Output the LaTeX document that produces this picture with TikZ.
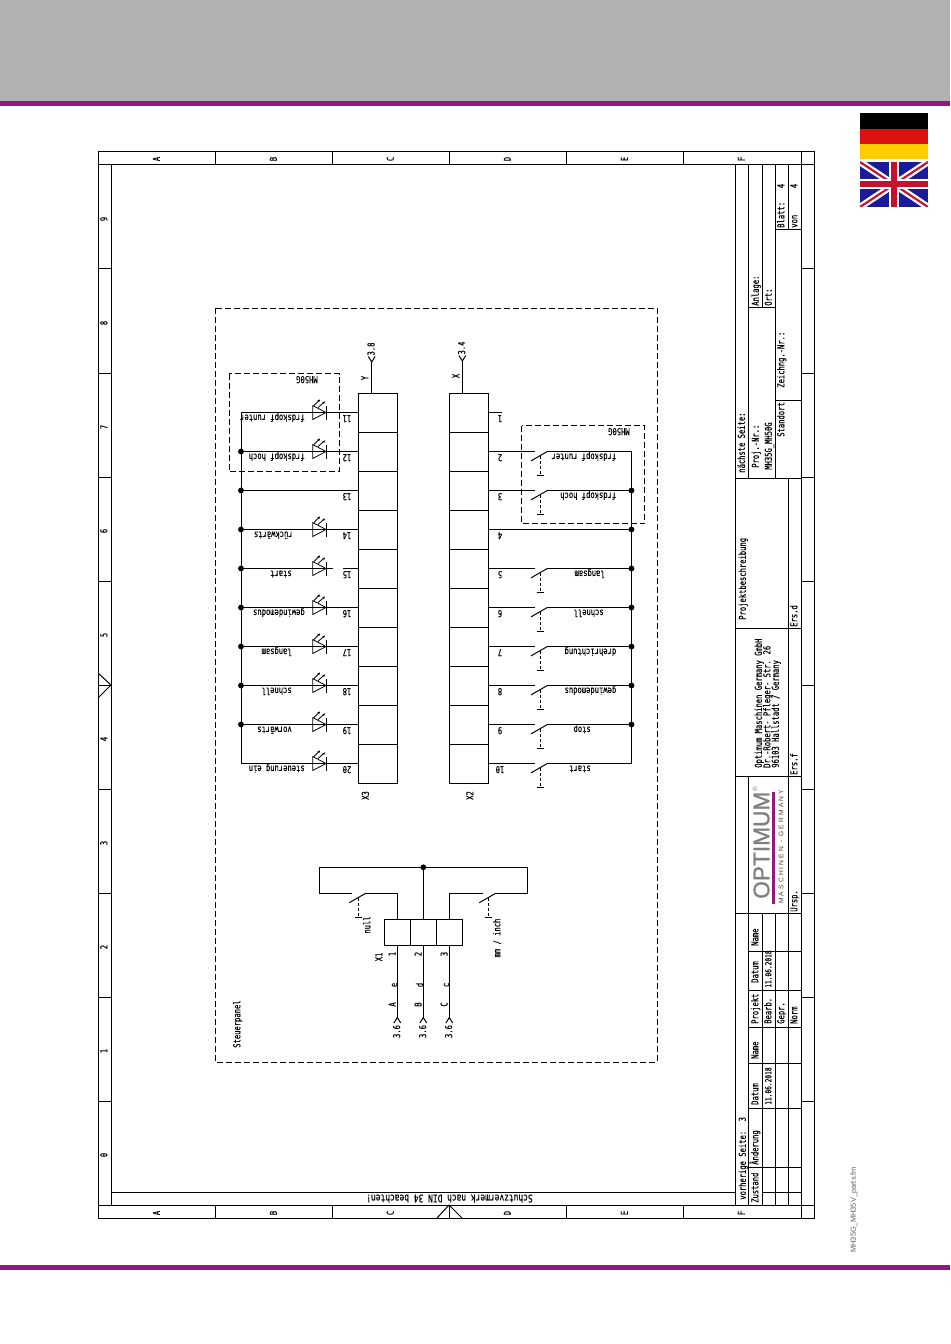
\documentclass[tikz,border=0pt]{standalone}
\usepackage{fontspec}
\setmainfont[FakeStretch=0.75,FakeBold=0.35]{DejaVu Sans Mono}
\newfontfamily\logofont[FakeBold=1.2]{Liberation Sans}
\newfontfamily\logosmall[LetterSpace=32]{Liberation Sans}
\newfontfamily\filefont{Liberation Sans}
\definecolor{banner}{HTML}{B2B2B2}
\definecolor{brandpurple}{HTML}{8E1B7D}
\definecolor{logogray}{HTML}{7F7F7F}
\definecolor{flagred}{HTML}{DD1111}
\definecolor{flaggold}{HTML}{FFCC00}
\definecolor{ukblue}{HTML}{1A1A9A}
\definecolor{ukred}{HTML}{C8102E}
\tikzset{
  wire/.style={line width=0.75pt,line cap=butt},
  frameline/.style={line width=0.75pt},
  dashbox/.style={line width=0.7pt,dash pattern=on 4.5pt off 2.25pt},
  cell/.style={draw,line width=0.75pt,minimum width=29.25pt,minimum height=29.25pt,outer sep=0pt,inner sep=0pt},
  xcell/.style={draw,line width=0.75pt,minimum width=19.5pt,minimum height=19.5pt,outer sep=0pt,inner sep=0pt},
  junction/.style={circle,fill=black,inner sep=0pt,minimum size=4.4pt,outer sep=0pt},
  txt/.style={inner sep=0pt,font=\fontsize{7.15}{8}\selectfont,text height=5.2pt,text depth=1pt},
  upside/.style={txt,rotate=180,anchor=west},
  upsidec/.style={txt,rotate=180},
  side/.style={txt,rotate=90,anchor=west},
  sidec/.style={txt,rotate=90},
  datetxt/.style={side,font=\fontsize{6.2}{7}\selectfont},
  ledsym/.pic={
    \draw[line width=0.6pt] (-13.3,-7) -- (0,0) -- (-13.3,7) -- cycle;
    \draw[line width=0.75pt] (0,-7) -- (0,7);
    \draw[line width=0.6pt,-{Stealth[length=2pt,width=2pt]}] (-12,-7) -- (-6,-13);
    \draw[line width=0.6pt,-{Stealth[length=2pt,width=2pt]}] (-8,-5) -- (-1,-11);
  },
  swsym/.pic={
    \draw[wire] (0,9.4) -- (16.3,0);
    \draw[wire,dash pattern=on 2.2pt off 1.6pt] (9,4.7) -- (9,24.4);
    \draw[wire] (5.5,24.4) -- (12.5,24.4);
  },
  chevup/.pic={\draw[wire] (-3.4,5.5) -- (0,0) -- (3.4,5.5);},
  chevdown/.pic={\draw[wire] (-3.4,-5.5) -- (0,0) -- (3.4,-5.5);}
}
\usetikzlibrary{arrows.meta}
\begin{document}
\begin{tikzpicture}[x=0.75pt,y=-0.75pt]
\useasboundingbox (0,0) rectangle (950,1344);
\fill[white] (0,0) rectangle (950,1344);
% banner
\fill[banner] (0,0) rectangle (950,102);
\fill[brandpurple] (0,101) rectangle (950,106);
\fill[brandpurple] (0,1265) rectangle (950,1270);
% flags
\fill[black] (860,113) rectangle (928,129);
\fill[flagred] (860,129) rectangle (928,144);
\fill[flaggold] (860,144) rectangle (928,159);
\begin{scope}
\clip (860,162) rectangle (928,207);
\fill[ukblue] (860,162) rectangle (928,207);
\draw[white,line width=5pt] (860,162) -- (928,207) (860,207) -- (928,162);
\draw[ukred,line width=1.6pt] (860,162) -- (928,207) (860,207) -- (928,162);
\draw[white,line width=7.5pt] (894,162) -- (894,207) (860,184.5) -- (928,184.5);
\draw[ukred,line width=4.5pt] (894,162) -- (894,207) (860,184.5) -- (928,184.5);
\end{scope}
\node[rotate=90,anchor=west,inner sep=0pt,text=black!62,font=\filefont\fontsize{5.6}{6}\selectfont] (fname) at (854,1253) {MH35G\_MH35V\_parts.fm};
% drawing frame
\draw[frameline] (98,152) rectangle (814,1218);
\draw[frameline] (111,165) -- (111,1205);
\draw[frameline] (98,165) -- (814,165);
\draw[frameline] (98,1205) -- (814,1205);
\draw[frameline] (801,152) -- (801,1218);
\foreach \x in {215,332,449,566,683} {
  \draw[frameline] (\x,152) -- (\x,165);
  \draw[frameline] (\x,1205) -- (\x,1218);
}
\foreach \y in {269,373,477,581,685,789,893,997,1101} {
  \draw[frameline] (98,\y) -- (111,\y);
  \draw[frameline] (801,\y) -- (814,\y);
}
\draw[frameline] (98,673) -- (111,685) -- (98,698);
\draw[frameline] (437,1218) -- (449,1205) -- (462,1218);
\foreach \x/\l in {157/A,274/B,391/C,508/D,625/E,742/F} {
  \node[sidec] (top\l) at (\x,159) {\l};
  \node[sidec] (bot\l) at (\x,1213) {\l};
}
\foreach \y/\l in {219/9,323/8,427/7,531/6,635/5,739/4,843/3,947/2,1051/1,1155/0} {
  \node[sidec] (num\l) at (104.5,\y) {\l};
}
% Schutzvermerk
\draw[frameline] (111,1192) -- (735,1192);
\node[upside,font=\fontsize{7.9}{9}\selectfont] (schutz) at (533,1197.5) {Schutzvermerk nach DIN 34 beachten!};
% title block
\draw[frameline] (735,165) -- (735,1205);
\draw[frameline] (748,165) -- (748,478);
\draw[frameline] (748,776) -- (748,1205);
\draw[frameline] (762,165) -- (762,308);
\draw[frameline] (762,913) -- (762,1205);
\draw[frameline] (775,165) -- (775,478);
\draw[frameline] (775,913) -- (775,1205);
\draw[frameline] (788,165) -- (788,230);
\draw[frameline] (788,478) -- (788,1205);
\draw[frameline] (775,230) -- (801,230);
\draw[frameline] (748,308) -- (775,308);
\draw[frameline] (775,400) -- (801,400);
\draw[frameline] (735,478) -- (801,478);
\draw[frameline] (735,628) -- (801,628);
\draw[frameline] (735,776) -- (801,776);
\draw[frameline] (735,913) -- (801,913);
\foreach \y in {951,990,1027,1063,1108,1167} {
  \draw[frameline] (748,\y) -- (801,\y);
}
\draw[frameline] (762,1192) -- (801,1192);
\node[side] (t1) at (742,473) {nächste Seite:};
\node[side] (t2) at (756,468) {Proj.-Nr.:};
\node[side] (t3) at (769,470) {MH35G\_MH50G};
\node[side] (t4) at (781.5,437) {Standort};
\node[side] (t5) at (756,306) {Anlage:};
\node[side] (t6) at (769,306) {Ort:};
\node[side] (t7) at (781.5,388) {Zeichng.-Nr.:};
\node[side] (t8) at (781.5,228) {Blatt:};
\node[sidec] (t9) at (781.5,186) {4};
\node[side] (t10) at (794.5,228) {von};
\node[sidec] (t11) at (794.5,186) {4};
\node[side] (t12) at (743,620) {Projektbeschreibung};
\node[side] (t13) at (759,768) {Optimum Maschinen Germany GmbH};
\node[side] (t14) at (767.5,768) {Dr.-Robert- Pfleger- Str. 26};
\node[side] (t15) at (776,768) {96103 Hallstadt / Germany};
\node[side] (t16) at (794.5,627) {Ers.d};
\node[side] (t17) at (794.5,775) {Ers.f};
\node[side] (t18) at (794.5,912) {Ursp.};
\node[side] (t19) at (755.5,946) {Name};
\node[side] (t20) at (755.5,983) {Datum};
\node[side] (t21) at (755.5,1024) {Projekt};
\node[side] (t22) at (755.5,1059) {Name};
\node[side] (t23) at (755.5,1105) {Datum};
\node[side] (t24) at (755.5,1165) {Änderung};
\node[side] (t25) at (755.5,1203) {Zustand};
\node[datetxt] (t26) at (768.5,988) {11.06.2018};
\node[datetxt] (t27) at (768.5,1105) {11.06.2018};
\node[side] (t28) at (768.5,1024) {Bearb.};
\node[side] (t29) at (781.5,1024) {Gepr.};
\node[side] (t30) at (794.5,1024) {Norm};
\node[side] (t31) at (743,1200) {vorherige Seite:\quad 3};
% logo
\node[rotate=90,anchor=west,inner sep=0pt,text=logogray,font=\logofont\fontsize{17}{18}\selectfont] (logo) at (761.5,899) {OPTIMUM};
\node[rotate=90,inner sep=0pt,text=logogray,font=\filefont\fontsize{5}{6}\selectfont] (logor) at (755,789) {®};
\fill[brandpurple] (772,792) rectangle (774.5,904);
\node[rotate=90,anchor=west,inner sep=0pt,text=black!75,font=\logosmall\fontsize{5}{6}\selectfont] (logosub) at (781,904) {MASCHINEN - GERMANY};
% panel frame
\draw[dashbox] (215,308) rectangle (657,1062);
\draw[dashbox] (229,373.5) rectangle (339.5,471.5);
\draw[dashbox] (521.5,425.5) rectangle (644.5,523.5);
\node[upside] (mhl) at (318,379) {MH50G};
\node[upside] (mhr) at (630,431) {MH50G};
\node[side] (panel) at (237.5,1048) {Steuerpanel};
% terminals X3 and X2
\foreach \k [evaluate=\k as \y using 373.5+39*\k, evaluate=\k as \n using int(\k+10)] in {1,...,10} {
  \node[cell] (xiii\n) at (377.5,\y) {};
  \node[upsidec] (nx\n) at (347,\y+5.5) {\n};
  \node[cell] (xii\k) at (468.5,\y) {};
  \node[upsidec] (nxii\k) at (500,\y+5.5) {\k};
  \coordinate (busl\n) at (241,\y);
  \coordinate (busr\k) at (631.5,\y);
}
% X3 bus and LEDs
\draw[wire] (busl11) -- (busl20);
\foreach \n in {11,12,13,14,16,17,18,19,20} {
  \draw[wire] (busl\n) -- (xiii\n.west);
}
\coordinate (gapa) at (333,568.5);
\coordinate (gapb) at (343,568.5);
\draw[wire] (busl15) -- (gapa);
\draw[wire] (gapb) -- (xiii15.west);
\foreach \n in {12,13,14,15,16,17,18,19} {
  \node[junction] (jl\n) at (busl\n) {};
}
\foreach \n/\t/\x in {11/frdskopf runter/305,12/frdskopf hoch/305,14/rückwärts/293,15/start/292,16/gewindemodus/305,17/langsam/292,18/schnell/292,19/vorwärts/292,20/steuerung ein/305} {
  \pic at (326,{373.5+39*(\n-10)}) {ledsym};
  \node[upside] (ll\n) at (\x,{378.5+39*(\n-10)}) {\t};
}
% X2 bus and switches
\draw[wire] (busr2) -- (busr10);
\draw[wire] (xii1.east) -- (501.5,412.5);
\draw[wire] (xii4.east) -- (busr4);
\foreach \k in {3,4,5,6,7,8,9} {
  \node[junction] (jr\k) at (busr\k) {};
}
\foreach \k/\t/\x in {2/frdskopf runter/616.5,3/frdskopf hoch/616.5,5/langsam/605,6/schnell/604,7/drehrichtung/616.5,8/gewindemodus/616.5,9/stop/591,10/start/591} {
  \pic at (531,{373.5+39*\k}) {swsym};
  \draw[wire] (xii\k.east) -- (534.5,{373.5+39*\k});
  \draw[wire] (547.3,{373.5+39*\k}) -- (busr\k);
  \node[upside] (lr\k) at (\x,{378.5+39*\k}) {\t};
}
% Y and X tails
\coordinate (yend) at (371.7,362);
\coordinate (xend) at (462.3,361);
\draw[wire] (xiii11.north -| yend) -- (yend);
\draw[wire] (xii1.north -| xend) -- (xend);
\pic at (yend) {chevdown};
\pic at (xend) {chevdown};
\node[sidec] (r38) at (371.7,349) {3.8};
\node[sidec] (r34) at (462.3,348) {3.4};
\node[sidec] (ly) at (365.5,378) {Y};
\node[sidec] (lx) at (456.5,376) {X};
\node[sidec] (lx3) at (366,795.5) {X3};
\node[sidec] (lx2) at (470.5,795.5) {X2};
% X1
\node[xcell] (xa) at (397.3,932.3) {};
\node[xcell] (xb) at (423.3,932.3) {};
\node[xcell] (xc) at (449.3,932.3) {};
\node[junction] (top) at (423.3,867.3) {};
\coordinate (tl) at (319.3,867.3);
\coordinate (tr) at (527.7,867.3);
\coordinate (ml) at (319.3,893.3);
\coordinate (mr) at (527.7,893.3);
\draw[wire] (ml) -- (tl) -- (tr) -- (mr);
\draw[wire] (top) -- (xb.north);
\draw[wire] (ml) -- (351.5,893.3);
\draw[wire] (365,893.3) -- (397.3,893.3) -- (xa.north);
\draw[wire] (mr) -- (495,893.3);
\draw[wire] (482.5,893.3) -- (449.3,893.3) -- (xc.north);
\pic at (349.3,893.3) {swsym};
\pic at (479.3,893.3) {swsym};
\node[sidec] (lnull) at (367.5,925) {null};
\node[sidec] (lmm) at (497.5,938) {mm / inch};
\foreach \c/\x/\n/\big/\small in {xa/397.3/1/A/e,xb/423.3/2/B/d,xc/449.3/3/C/c} {
  \coordinate (e\n) at (\x,1017.5);
  \draw[wire] (\c.south) -- (e\n);
  \pic at (e\n) {chevup};
  \node[sidec] (n\n) at (\x-4.5,954) {\n};
  \node[sidec] (big\n) at (\x-4.5,1004.5) {\big};
  \node[sidec] (sm\n) at (\x-3,985) {\small};
  \node[sidec] (res\n) at (\x,1031.5) {3.6};
}
\node[sidec] (lx1) at (379.5,957) {X1};
\end{tikzpicture}
\end{document}
